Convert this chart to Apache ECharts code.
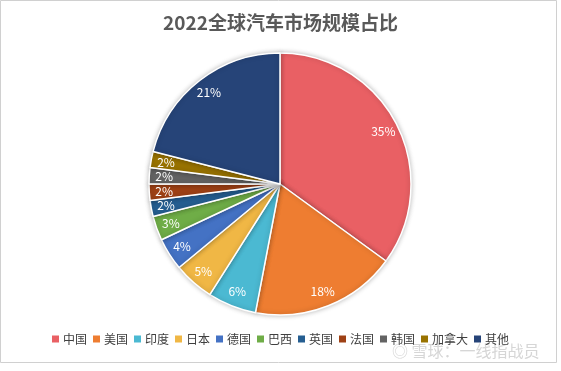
<!DOCTYPE html>
<html><head><meta charset="utf-8">
<script src="https://cdn.jsdelivr.net/npm/echarts@6/dist/echarts.min.js"></script>
<style>html,body{margin:0;padding:0;background:#fff}#c{width:561px;height:371px}</style>
</head><body><div id="c"></div>
<script>
const titleText = '2022全球汽车市场规模占比';
const categories = ['中国','美国','印度','日本','德国','巴西','英国','法国','韩国','加拿大','其他'];
const shares = [35,18,6,5,4,3,2,2,2,2,21];
const colors = ['#E96064','#EE7D31','#4BB9D2','#F0B745','#4472C4','#6FAD47','#255E91','#9E4115','#636363','#997300','#264478'];

const data = categories.map((n,i)=>({name:n,value:shares[i],itemStyle:{color:colors[i]}}));
const font = '"Noto Sans CJK SC", "Microsoft YaHei", sans-serif';
const chart = echarts.init(document.getElementById('c'), null, {renderer:'canvas'});
chart.setOption({
  animation:false,
  backgroundColor:'#fff',
  title:{text:titleText,left:'center',top:8,textStyle:{fontFamily:font,fontSize:19,fontWeight:'bold',color:'#595959'}},
  legend:{bottom:21,left:'center',itemWidth:7,itemHeight:7,itemGap:6,icon:'rect',
    itemStyle:{borderWidth:0,shadowBlur:0},
    textStyle:{fontFamily:font,fontSize:12,color:'#404040',padding:[0,0,0,-1]},
    data:categories},
  graphic:[
    {type:'rect',shape:{x:0.5,y:0.5,width:556,height:362},style:{fill:'none',stroke:'#d0d0d0',lineWidth:1},silent:true},
    {type:'text',left:392,top:343,style:{text:'◎ 雪球：一线指战员',font:'16px '+font,fill:'#d6d6d6'},silent:true}
  ],
  series:[
    {type:'pie',center:[280,184],radius:[0,131],startAngle:90,clockwise:true,
      data:data,label:{show:false},labelLine:{show:false},
      itemStyle:{borderColor:'#fff',borderWidth:1.5,shadowBlur:5,shadowColor:'rgba(0,0,0,0.25)'}},
    {type:'pie',center:[280,184],radius:[95,131],startAngle:90,clockwise:true,silent:true,
      data:categories.map((n,i)=>({name:n,value:shares[i]})),
      itemStyle:{color:'rgba(0,0,0,0)',borderWidth:0},
      label:{show:true,position:'inside',formatter:p=>p.value+'%',color:'#fff',fontSize:12,fontFamily:font},
      labelLine:{show:false}, legendHoverLink:false}
  ]
});
</script></body></html>
